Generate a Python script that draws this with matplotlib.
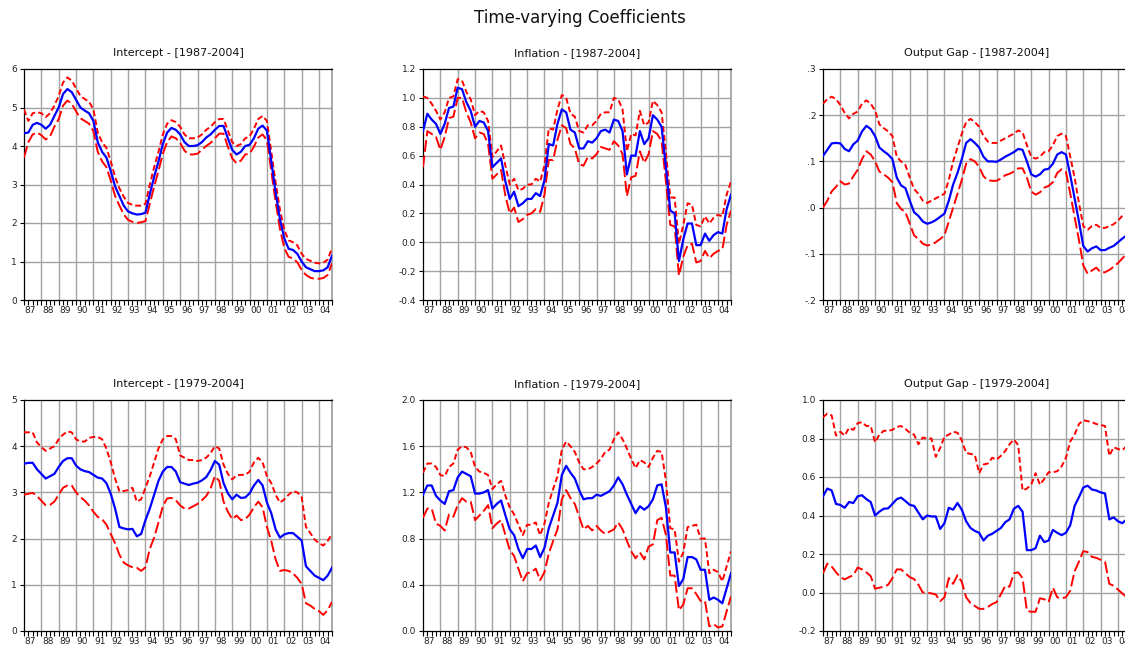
import matplotlib
matplotlib.use("Agg")
import matplotlib.pyplot as plt
import numpy as np

# quarterly sample 1987Q1 - 2004Q4
year_labels = ["87", "88", "89", "90", "91", "92", "93", "94", "95", "96",
               "97", "98", "99", "00", "01", "02", "03", "04"]

# ---------- Intercept [1987-2004]
int87_mid = [4.33, 4.35, 4.55, 4.60, 4.55, 4.45, 4.55, 4.78, 5.00, 5.35, 5.48, 5.40,
             5.20, 5.00, 4.92, 4.85, 4.65, 4.10, 3.85, 3.70, 3.35, 2.95, 2.70, 2.45,
             2.30, 2.25, 2.22, 2.23, 2.27, 2.75, 3.20, 3.60, 4.05, 4.35, 4.47, 4.42,
             4.30, 4.10, 4.00, 4.00, 4.02, 4.10, 4.22, 4.30, 4.42, 4.52, 4.52, 4.20,
             3.90, 3.78, 3.85, 4.00, 4.03, 4.20, 4.45, 4.53, 4.40, 3.60, 2.80, 2.10,
             1.60, 1.33, 1.30, 1.20, 1.00, 0.85, 0.80, 0.75, 0.75, 0.77, 0.85, 1.15]
int87_up = [4.95, 4.65, 4.85, 4.88, 4.85, 4.75, 4.85, 5.05, 5.30, 5.65, 5.78, 5.70,
            5.50, 5.30, 5.22, 5.15, 4.95, 4.35, 4.10, 3.95, 3.60, 3.20, 2.90, 2.68,
            2.52, 2.47, 2.45, 2.45, 2.50, 3.00, 3.45, 3.85, 4.30, 4.58, 4.67, 4.62,
            4.50, 4.30, 4.20, 4.20, 4.22, 4.30, 4.42, 4.50, 4.62, 4.70, 4.70, 4.40,
            4.10, 4.00, 4.05, 4.20, 4.25, 4.45, 4.70, 4.78, 4.65, 3.85, 3.05, 2.35,
            1.82, 1.55, 1.50, 1.42, 1.20, 1.07, 1.02, 0.97, 0.95, 0.97, 1.05, 1.35]
int87_lo = [3.70, 4.10, 4.30, 4.35, 4.28, 4.17, 4.25, 4.50, 4.70, 5.05, 5.18, 5.10,
            4.90, 4.72, 4.65, 4.58, 4.38, 3.85, 3.60, 3.45, 3.10, 2.70, 2.45, 2.22,
            2.08, 2.03, 2.00, 2.02, 2.05, 2.50, 2.95, 3.35, 3.80, 4.10, 4.25, 4.20,
            4.08, 3.88, 3.78, 3.78, 3.80, 3.90, 4.00, 4.08, 4.20, 4.32, 4.32, 3.98,
            3.68, 3.55, 3.62, 3.78, 3.80, 3.98, 4.22, 4.30, 4.15, 3.35, 2.55, 1.85,
            1.35, 1.12, 1.08, 0.98, 0.78, 0.65, 0.58, 0.55, 0.55, 0.57, 0.65, 0.95]

# ---------- Inflation [1987-2004]
inf87_mid = [0.77, 0.89, 0.85, 0.82, 0.75, 0.82, 0.93, 0.94, 1.07, 1.06, 0.97, 0.91,
             0.80, 0.84, 0.83, 0.77, 0.52, 0.55, 0.58, 0.42, 0.30, 0.35, 0.25, 0.27,
             0.30, 0.30, 0.34, 0.32, 0.43, 0.68, 0.67, 0.82, 0.92, 0.90, 0.78, 0.76,
             0.65, 0.65, 0.70, 0.69, 0.72, 0.77, 0.78, 0.76, 0.85, 0.84, 0.77, 0.47,
             0.60, 0.60, 0.77, 0.68, 0.72, 0.88, 0.85, 0.80, 0.52, 0.22, 0.20, -0.13,
             0.02, 0.13, 0.13, -0.02, -0.02, 0.06, 0.01, 0.05, 0.07, 0.06, 0.23, 0.33]
inf87_up = [1.01, 1.00, 0.96, 0.91, 0.85, 0.90, 1.00, 1.01, 1.13, 1.12, 1.04, 0.99,
            0.88, 0.91, 0.90, 0.84, 0.59, 0.63, 0.67, 0.53, 0.40, 0.44, 0.36, 0.37,
            0.40, 0.40, 0.44, 0.42, 0.53, 0.79, 0.78, 0.92, 1.02, 1.00, 0.89, 0.87,
            0.77, 0.76, 0.81, 0.81, 0.84, 0.89, 0.90, 0.90, 1.00, 0.99, 0.92, 0.63,
            0.75, 0.74, 0.91, 0.81, 0.83, 0.98, 0.95, 0.90, 0.62, 0.31, 0.31, -0.01,
            0.12, 0.27, 0.26, 0.12, 0.11, 0.18, 0.13, 0.17, 0.19, 0.18, 0.33, 0.42]
inf87_lo = [0.52, 0.77, 0.75, 0.73, 0.64, 0.73, 0.86, 0.87, 1.00, 1.00, 0.90, 0.83,
            0.72, 0.76, 0.75, 0.68, 0.44, 0.47, 0.50, 0.32, 0.20, 0.24, 0.14, 0.16,
            0.19, 0.20, 0.23, 0.21, 0.33, 0.57, 0.57, 0.71, 0.81, 0.79, 0.68, 0.65,
            0.54, 0.53, 0.59, 0.58, 0.61, 0.66, 0.65, 0.64, 0.70, 0.67, 0.61, 0.32,
            0.45, 0.46, 0.63, 0.55, 0.61, 0.77, 0.75, 0.70, 0.42, 0.12, 0.11, -0.23,
            -0.10, -0.02, -0.01, -0.14, -0.13, -0.06, -0.11, -0.08, -0.06, -0.05, 0.12, 0.22]

# ---------- Output Gap [1987-2004]
gap87_mid = [0.112, 0.125, 0.139, 0.140, 0.139, 0.127, 0.122, 0.137, 0.145, 0.165, 0.177, 0.170,
             0.155, 0.130, 0.122, 0.115, 0.105, 0.065, 0.048, 0.042, 0.015, -0.010, -0.018, -0.030,
             -0.035, -0.032, -0.027, -0.020, -0.013, 0.015, 0.050, 0.075, 0.105, 0.140, 0.148, 0.140,
             0.130, 0.110, 0.100, 0.100, 0.099, 0.104, 0.110, 0.115, 0.120, 0.127, 0.125, 0.100,
             0.072, 0.067, 0.072, 0.082, 0.084, 0.095, 0.115, 0.120, 0.115, 0.070, 0.020, -0.030,
             -0.083, -0.095, -0.088, -0.084, -0.092, -0.092, -0.087, -0.083, -0.075, -0.067, -0.060, -0.055]
gap87_up = [0.225, 0.235, 0.240, 0.235, 0.222, 0.205, 0.193, 0.203, 0.208, 0.225, 0.232, 0.225,
            0.210, 0.180, 0.172, 0.165, 0.155, 0.110, 0.100, 0.092, 0.065, 0.040, 0.030, 0.015,
            0.010, 0.015, 0.020, 0.025, 0.030, 0.060, 0.100, 0.130, 0.160, 0.185, 0.192, 0.185,
            0.175, 0.155, 0.143, 0.140, 0.140, 0.145, 0.150, 0.155, 0.160, 0.167, 0.163, 0.135,
            0.110, 0.106, 0.110, 0.120, 0.122, 0.135, 0.155, 0.160, 0.155, 0.110, 0.065, 0.010,
            -0.040, -0.048, -0.040, -0.037, -0.044, -0.044, -0.040, -0.036, -0.028, -0.018, -0.012, -0.005]
gap87_lo = [0.000, 0.015, 0.035, 0.045, 0.057, 0.050, 0.052, 0.068, 0.082, 0.105, 0.122, 0.115,
            0.100, 0.078, 0.072, 0.065, 0.055, 0.010, -0.003, -0.010, -0.035, -0.060, -0.068, -0.078,
            -0.082, -0.080, -0.075, -0.068, -0.060, -0.030, 0.000, 0.030, 0.060, 0.095, 0.105, 0.100,
            0.088, 0.068, 0.059, 0.058, 0.058, 0.063, 0.070, 0.073, 0.078, 0.085, 0.085, 0.065,
            0.035, 0.028, 0.033, 0.043, 0.047, 0.055, 0.075, 0.083, 0.077, 0.030, -0.020, -0.070,
            -0.125, -0.143, -0.136, -0.130, -0.140, -0.140, -0.135, -0.128, -0.120, -0.110, -0.100, -0.092]

# ---------- Intercept [1979-2004]
int79_mid = [3.62, 3.64, 3.64, 3.50, 3.40, 3.30, 3.35, 3.40, 3.55, 3.68, 3.74, 3.74,
             3.58, 3.50, 3.46, 3.44, 3.38, 3.32, 3.30, 3.20, 2.97, 2.65, 2.25, 2.22,
             2.20, 2.21, 2.05, 2.10, 2.40, 2.65, 2.95, 3.25, 3.45, 3.55, 3.55, 3.45,
             3.22, 3.19, 3.16, 3.19, 3.21, 3.26, 3.33, 3.48, 3.68, 3.60, 3.20, 2.98,
             2.85, 2.95, 2.88, 2.89, 2.98, 3.15, 3.27, 3.15, 2.78, 2.55, 2.20, 2.02,
             2.09, 2.12, 2.12, 2.04, 1.96, 1.40, 1.30, 1.20, 1.15, 1.10, 1.20, 1.37]
int79_up = [4.30, 4.30, 4.30, 4.08, 3.98, 3.90, 3.95, 4.00, 4.15, 4.25, 4.32, 4.30,
            4.15, 4.10, 4.10, 4.18, 4.20, 4.20, 4.15, 3.95, 3.65, 3.30, 3.02, 3.03,
            3.05, 3.10, 2.80, 2.85, 3.10, 3.35, 3.65, 3.95, 4.15, 4.22, 4.22, 4.15,
            3.80, 3.75, 3.70, 3.70, 3.68, 3.70, 3.75, 3.85, 4.00, 3.95, 3.60, 3.40,
            3.28, 3.37, 3.38, 3.38, 3.45, 3.65, 3.75, 3.65, 3.35, 3.20, 2.95, 2.78,
            2.85, 2.95, 3.03, 3.00, 2.90, 2.25, 2.12, 1.98, 1.90, 1.85, 1.95, 2.10]
int79_lo = [2.95, 2.97, 2.99, 2.92, 2.82, 2.72, 2.73, 2.80, 2.95, 3.10, 3.15, 3.15,
            3.00, 2.90, 2.82, 2.72, 2.58, 2.47, 2.42, 2.30, 2.10, 1.90, 1.65, 1.48,
            1.42, 1.38, 1.37, 1.30, 1.38, 1.78, 2.02, 2.35, 2.70, 2.87, 2.88, 2.83,
            2.72, 2.65, 2.65, 2.70, 2.75, 2.83, 2.92, 3.08, 3.35, 3.25, 2.80, 2.58,
            2.42, 2.50, 2.40, 2.42, 2.52, 2.68, 2.80, 2.68, 2.25, 1.95, 1.55, 1.30,
            1.32, 1.30, 1.25, 1.15, 1.02, 0.60, 0.55, 0.48, 0.43, 0.35, 0.45, 0.63]

# ---------- Inflation [1979-2004]
inf79_mid = [1.18, 1.26, 1.26, 1.17, 1.13, 1.10, 1.21, 1.22, 1.33, 1.38, 1.36, 1.34,
             1.19, 1.19, 1.20, 1.22, 1.06, 1.10, 1.13, 1.00, 0.88, 0.83, 0.71, 0.63,
             0.71, 0.71, 0.74, 0.64, 0.72, 0.89, 1.00, 1.11, 1.35, 1.43, 1.37, 1.32,
             1.22, 1.14, 1.15, 1.15, 1.18, 1.17, 1.19, 1.21, 1.26, 1.33, 1.27, 1.18,
             1.10, 1.02, 1.08, 1.05, 1.08, 1.14, 1.26, 1.27, 1.07, 0.68, 0.68, 0.39,
             0.45, 0.64, 0.64, 0.62, 0.53, 0.53, 0.27, 0.29, 0.27, 0.24, 0.37, 0.50]
inf79_up = [1.37, 1.45, 1.45, 1.42, 1.35, 1.34, 1.42, 1.45, 1.57, 1.60, 1.59, 1.55,
            1.42, 1.38, 1.37, 1.35, 1.23, 1.27, 1.30, 1.17, 1.07, 1.01, 0.92, 0.83,
            0.92, 0.92, 0.94, 0.83, 0.93, 1.11, 1.23, 1.34, 1.57, 1.64, 1.60, 1.55,
            1.46, 1.40, 1.40, 1.42, 1.45, 1.49, 1.55, 1.57, 1.66, 1.72, 1.66, 1.58,
            1.49, 1.41, 1.48, 1.46, 1.42, 1.50, 1.56, 1.55, 1.30, 0.89, 0.88, 0.60,
            0.68, 0.90, 0.91, 0.92, 0.80, 0.80, 0.50, 0.53, 0.51, 0.43, 0.56, 0.69]
inf79_lo = [0.98, 1.06, 1.06, 0.93, 0.91, 0.87, 1.01, 0.99, 1.09, 1.15, 1.12, 1.12,
            0.96, 1.00, 1.04, 1.09, 0.89, 0.93, 0.96, 0.83, 0.70, 0.65, 0.54, 0.43,
            0.50, 0.51, 0.54, 0.44, 0.51, 0.67, 0.78, 0.88, 1.14, 1.22, 1.15, 1.10,
            0.99, 0.88, 0.91, 0.87, 0.91, 0.87, 0.84, 0.86, 0.88, 0.94, 0.88, 0.78,
            0.69, 0.63, 0.68, 0.62, 0.73, 0.75, 0.96, 0.98, 0.83, 0.48, 0.48, 0.18,
            0.23, 0.37, 0.37, 0.32, 0.26, 0.26, 0.04, 0.06, 0.03, 0.04, 0.17, 0.30]

# ---------- Output Gap [1979-2004]
gap79_mid = [0.500, 0.540, 0.530, 0.460, 0.455, 0.440, 0.470, 0.465, 0.500, 0.505, 0.485, 0.470,
             0.400, 0.420, 0.435, 0.437, 0.460, 0.485, 0.493, 0.475, 0.455, 0.450, 0.415, 0.380,
             0.400, 0.395, 0.395, 0.330, 0.360, 0.440, 0.430, 0.465, 0.430, 0.370, 0.335, 0.320,
             0.310, 0.270, 0.295, 0.305, 0.320, 0.335, 0.365, 0.380, 0.435, 0.450, 0.420, 0.220,
             0.220, 0.230, 0.295, 0.262, 0.270, 0.325, 0.310, 0.298, 0.310, 0.350, 0.450, 0.495,
             0.545, 0.555, 0.535, 0.530, 0.520, 0.515, 0.380, 0.390, 0.370, 0.360, 0.380, 0.400]
gap79_up = [0.910, 0.930, 0.920, 0.815, 0.835, 0.815, 0.855, 0.845, 0.880, 0.885, 0.865, 0.865,
            0.780, 0.820, 0.840, 0.840, 0.845, 0.860, 0.865, 0.850, 0.830, 0.820, 0.770, 0.805,
            0.800, 0.800, 0.705, 0.750, 0.810, 0.820, 0.835, 0.830, 0.790, 0.725, 0.720, 0.715,
            0.620, 0.665, 0.670, 0.700, 0.690, 0.710, 0.735, 0.770, 0.795, 0.765, 0.530, 0.540,
            0.560, 0.620, 0.560, 0.590, 0.625, 0.625, 0.630, 0.655, 0.700, 0.785, 0.820, 0.875,
            0.895, 0.890, 0.885, 0.875, 0.870, 0.865, 0.710, 0.755, 0.745, 0.740, 0.760, 0.770]
gap79_lo = [0.100, 0.150, 0.135, 0.105, 0.080, 0.068, 0.080, 0.090, 0.130, 0.120, 0.105, 0.085,
            0.020, 0.025, 0.030, 0.040, 0.075, 0.120, 0.120, 0.100, 0.080, 0.070, 0.040, 0.000,
            0.000, -0.005, -0.010, -0.045, -0.025, 0.075, 0.045, 0.090, 0.055, -0.025, -0.055, -0.070,
            -0.085, -0.085, -0.075, -0.060, -0.050, -0.010, 0.035, 0.030, 0.100, 0.105, 0.075, -0.095,
            -0.100, -0.100, -0.030, -0.035, -0.050, 0.025, -0.025, -0.030, -0.025, 0.010, 0.110, 0.160,
            0.215, 0.210, 0.185, 0.180, 0.170, 0.160, 0.045, 0.035, 0.015, -0.005, -0.025, -0.015]

titles = ["Intercept - [1987-2004]", "Inflation - [1987-2004]", "Output Gap - [1987-2004]",
          "Intercept - [1979-2004]", "Inflation - [1979-2004]", "Output Gap - [1979-2004]"]

yticks_list = [
    [0, 1, 2, 3, 4, 5, 6],
    [-0.4, -0.2, 0.0, 0.2, 0.4, 0.6, 0.8, 1.0, 1.2],
    [-0.2, -0.1, 0.0, 0.1, 0.2, 0.3],
    [0, 1, 2, 3, 4, 5],
    [0.0, 0.4, 0.8, 1.2, 1.6, 2.0],
    [-0.2, 0.0, 0.2, 0.4, 0.6, 0.8, 1.0],
]
ytick_labels_list = [
    ["0", "1", "2", "3", "4", "5", "6"],
    ["-0.4", "-0.2", "0.0", "0.2", "0.4", "0.6", "0.8", "1.0", "1.2"],
    ["-.2", "-.1", ".0", ".1", ".2", ".3"],
    ["0", "1", "2", "3", "4", "5"],
    ["0.0", "0.4", "0.8", "1.2", "1.6", "2.0"],
    ["-0.2", "0.0", "0.2", "0.4", "0.6", "0.8", "1.0"],
]

panels = [
    (int87_mid, int87_up, int87_lo),
    (inf87_mid, inf87_up, inf87_lo),
    (gap87_mid, gap87_up, gap87_lo),
    (int79_mid, int79_up, int79_lo),
    (inf79_mid, inf79_up, inf79_lo),
    (gap79_mid, gap79_up, gap79_lo),
]

W, H = 1125, 646
fig = plt.figure(figsize=(W / 100, H / 100), dpi=100)
fig.text(580 / W, 1 - 18 / H, "Time-varying Coefficients", ha="center", va="center",
         fontsize=12, color="#111111")

col_x = [24, 423, 823]
row_y = [(69, 300), (400, 631)]
aw = 308

grid_col = "#a3a3a3"
for i, (mid, up, lo) in enumerate(panels):
    r, c = divmod(i, 3)
    top, bot = row_y[r]
    ax = fig.add_axes([col_x[c] / W, 1 - bot / H, aw / W, (bot - top) / H])
    n = len(mid)
    x = np.arange(n)
    ax.set_xlim(0, n - 1)
    yt = yticks_list[i]
    ax.set_ylim(yt[0], yt[-1])
    # grid
    for k in range(0, n, 4):
        if k > 0:
            ax.axvline(k, color=grid_col, lw=1.0, zorder=1)
    for yv in yt[1:-1]:
        ax.axhline(yv, color=grid_col, lw=1.0, zorder=1)
    ax.plot(x, up, color="#ff0000", lw=1.4, dashes=(3, 1.6), zorder=3)
    ax.plot(x, lo, color="#ff0000", lw=1.4, dashes=(6, 2), zorder=3)
    ax.plot(x, mid, color="#0000ff", lw=1.6, zorder=4)

    ax.set_yticks(yt)
    ax.set_yticklabels(ytick_labels_list[i], fontsize=6.5, color="#222222")
    ax.set_xticks([4 * k + 1.5 for k in range(len(year_labels))])
    ax.set_xticklabels(year_labels, fontsize=6.5, color="#222222")
    ax.set_xticks(np.arange(n), minor=True)
    ax.tick_params(axis="x", which="major", length=0, pad=4)
    ax.tick_params(axis="x", which="minor", length=3.5, width=0.8, direction="out")
    ax.tick_params(axis="y", length=3, width=0.8, direction="out", pad=2)
    ax.spines["right"].set_color("#999999")
    ax.spines["right"].set_linewidth(1.2)
    for s in ["left", "bottom", "top"]:
        ax.spines[s].set_color("#000000")
        ax.spines[s].set_linewidth(0.9)
    ax.set_title(titles[i], fontsize=8, pad=9, color="#111111")

fig.savefig("out.png", dpi=100)
